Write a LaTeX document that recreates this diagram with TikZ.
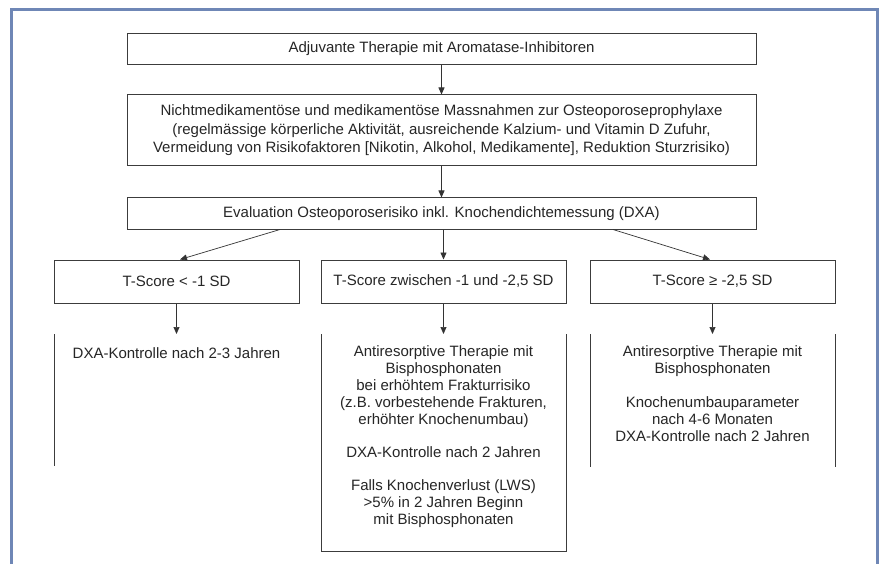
\documentclass[tikz,border=0pt]{standalone}
\usepackage{fontspec}
\setmainfont{Liberation Sans}
\usetikzlibrary{arrows.meta}
\definecolor{framec}{RGB}{111,135,182}
\definecolor{linec}{RGB}{60,60,60}
\begin{document}
\begin{tikzpicture}[x=1pt,y=-1pt,
  box/.style={draw=linec, line width=1pt, inner sep=0pt, align=center,
    font=\fontsize{15}{18.5}\selectfont, text=black!85},
  arr/.style={draw=black!80, line width=0.7pt, -{Triangle[length=7pt,width=6pt]}},
  openline/.style={draw=linec, line width=1pt},
  txt/.style={inner sep=0pt, align=center, font=\fontsize{15}{17}\selectfont,
    anchor=north, text=black!85}]
\useasboundingbox (0,0) rectangle (883,564);
\fill[white] (0,0) rectangle (883,564);
\draw[framec, line width=3pt] (11,575) -- (11,9.5) -- (877,9.5) -- (877,575);

\node[box, minimum width=629pt, minimum height=31pt] (b1) at (441.5,49)
  {Adjuvante Therapie mit Aromatase-Inhibitoren};
\node[box, minimum width=629pt, minimum height=71pt] (b2) at (441.5,130.5)
  {Nichtmedikamentöse und medikamentöse Massnahmen zur Osteoporoseprophylaxe\\
   (regelmässige körperliche Aktivität, ausreichende Kalzium- und Vitamin D Zufuhr,\\
   Vermeidung von Risikofaktoren [Nikotin, Alkohol, Medikamente], Reduktion Sturzrisiko)};
\node[box, minimum width=629pt, minimum height=31pt] (b3) at (441.5,213.5)
  {Evaluation Osteoporoserisiko inkl. Knochendichtemessung (DXA)};
\node[box, minimum width=245pt, minimum height=43pt] (b4a) at (176.5,281.5)
  {T-Score < -1 SD};
\node[box, minimum width=245pt, minimum height=43pt] (b4b) at (443.5,281.5)
  {T-Score zwischen -1 und -2,5 SD};
\node[box, minimum width=245pt, minimum height=43pt] (b4c) at (712.5,281.5)
  {T-Score ≥ -2,5 SD};

\coordinate (l1) at (176.5,334);
\coordinate (l2) at (443.5,334);
\coordinate (l3) at (712.5,334);

\draw[openline] (54,334) -- (54,466);
\draw[openline] (321,334) -- (321,551) -- (566,551) -- (566,334);
\draw[openline] (590,334) -- (590,467);
\draw[openline] (835,334) -- (835,467);

\node[txt] (t1) at (176.5,347) {DXA-Kontrolle nach 2-3 Jahren};
\node[txt] (t2) at (443.5,345)
  {Antiresorptive Therapie mit\\Bisphosphonaten\\bei erhöhtem Frakturrisiko\\
   (z.B. vorbestehende Frakturen,\\erhöhter Knochenumbau)\\[16pt]
   DXA-Kontrolle nach 2 Jahren\\[16pt]
   Falls Knochenverlust (LWS)\\>5\% in 2 Jahren Beginn\\mit Bisphosphonaten};
\node[txt] (t3) at (712.5,345)
  {Antiresorptive Therapie mit\\Bisphosphonaten\\[17pt]
   Knochenumbauparameter\\nach 4-6 Monaten\\DXA-Kontrolle nach 2 Jahren};

\draw[arr] (b1) -- (b2);
\draw[arr] (b2) -- (b3);
\draw[arr] ([xshift=-161.5pt]b3.south) -- ([xshift=3.5pt]b4a.north);
\draw[arr] (b3.south -| b4b.north) -- (b4b.north);
\draw[arr] ([xshift=171.5pt]b3.south) -- ([xshift=-2.5pt]b4c.north);
\draw[arr] (b4a) -- (l1);
\draw[arr] (b4b) -- (l2);
\draw[arr] (b4c) -- (l3);
\end{tikzpicture}
\end{document}
